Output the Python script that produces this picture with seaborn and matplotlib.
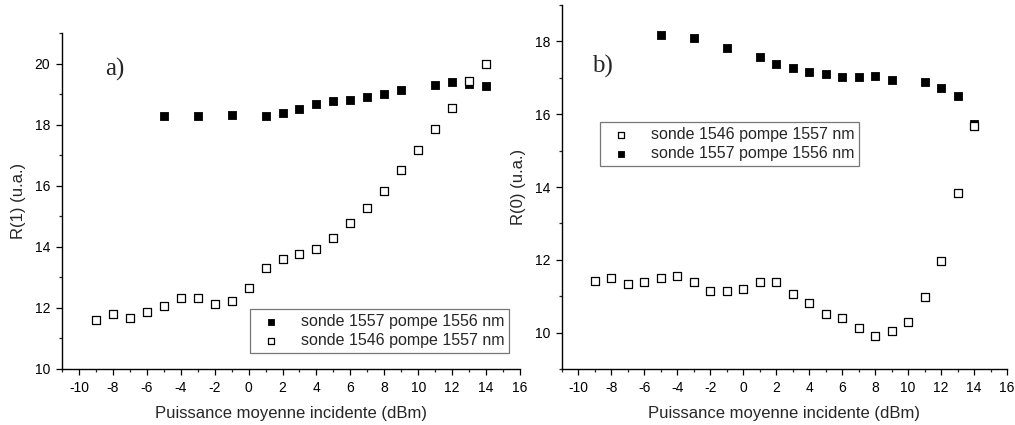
import matplotlib
matplotlib.use("Agg")
import matplotlib.pyplot as plt
import seaborn as sns
import pandas as pd
from matplotlib.ticker import MultipleLocator

# ---- data ----
x_a_filled = [-5, -3, -1, 1, 2, 3, 4, 5, 6, 7, 8, 9, 11, 12, 13, 14]
y_a_filled = [18.27, 18.27, 18.30, 18.28, 18.38, 18.50, 18.66, 18.78, 18.80, 18.90,
              18.99, 19.13, 19.30, 19.38, 19.33, 19.27]
x_a_open = list(range(-9, 15))
y_a_open = [11.59, 11.80, 11.68, 11.85, 12.05, 12.31, 12.31, 12.12, 12.21, 12.66,
            13.31, 13.60, 13.75, 13.94, 14.30, 14.77, 15.28, 15.83, 16.51, 17.17,
            17.86, 18.55, 19.43, 20.00]

x_b_filled = [-5, -3, -1, 1, 2, 3, 4, 5, 6, 7, 8, 9, 11, 12, 13, 14]
y_b_filled = [18.17, 18.08, 17.83, 17.58, 17.38, 17.26, 17.16, 17.10, 17.02, 17.02,
              17.05, 16.95, 16.88, 16.72, 16.49, 15.73]
x_b_open = list(range(-9, 15))
y_b_open = [11.43, 11.51, 11.34, 11.38, 11.51, 11.55, 11.38, 11.15, 11.15, 11.21,
            11.40, 11.40, 11.05, 10.80, 10.50, 10.41, 10.13, 9.92, 10.05, 10.29,
            10.98, 11.97, 13.83, 15.67]

lab_filled = "sonde 1557 pompe 1556 nm"
lab_open = "sonde 1546 pompe 1557 nm"
xlabel = "Puissance moyenne incidente (dBm)"
ylabel_a = "R(1) (u.a.)"
ylabel_b = "R(0) (u.a.)"
xticks = list(range(-10, 17, 2))

sns.set_theme(style="ticks")
plt.rcParams['font.family'] = ['Liberation Sans', 'DejaVu Sans']
plt.rcParams['axes.unicode_minus'] = False

fig = plt.figure(figsize=(10.15, 4.25), dpi=100)
ax1 = fig.add_axes([62/1015, 56/425, (520-62)/1015, (369-33)/425])
ax2 = fig.add_axes([562/1015, 56/425, (1007-562)/1015, (369-5)/425])

df_a_f = pd.DataFrame({"x": x_a_filled, "y": y_a_filled})
df_a_o = pd.DataFrame({"x": x_a_open, "y": y_a_open})
df_b_f = pd.DataFrame({"x": x_b_filled, "y": y_b_filled})
df_b_o = pd.DataFrame({"x": x_b_open, "y": y_b_open})

ms = 38
kw_f = dict(marker="s", s=ms, color="black", edgecolor="black", linewidth=0.6, zorder=3)
kw_o = dict(marker="s", s=ms, facecolor="white", edgecolor="black", linewidth=0.9, zorder=4)

sns.scatterplot(data=df_a_f, x="x", y="y", ax=ax1, label=lab_filled, **kw_f)
sns.scatterplot(data=df_a_o, x="x", y="y", ax=ax1, label=lab_open, **kw_o)
sns.scatterplot(data=df_b_o, x="x", y="y", ax=ax2, label=lab_open, **kw_o)
sns.scatterplot(data=df_b_f, x="x", y="y", ax=ax2, label=lab_filled, **kw_f)

for ax, ylim, ylab in [(ax1, (10, 21), ylabel_a), (ax2, (9, 19), ylabel_b)]:
    ax.set_xlim(-11, 16)
    ax.set_ylim(*ylim)
    ax.set_xticks(xticks)
    ax.xaxis.set_minor_locator(MultipleLocator(1))
    ax.yaxis.set_major_locator(MultipleLocator(2))
    ax.yaxis.set_minor_locator(MultipleLocator(1))
    ax.tick_params(which="major", direction="out", length=4.5, width=0.9, labelsize=10, pad=4, colors="black")
    ax.tick_params(which="minor", direction="out", length=2.5, width=0.9)
    for s in ["top", "right"]:
        ax.spines[s].set_visible(False)
    for s in ["left", "bottom"]:
        ax.spines[s].set_linewidth(1.0)
        ax.spines[s].set_color("black")
    ax.set_xlabel(xlabel, fontsize=12, labelpad=8)
    ax.set_ylabel(ylab, fontsize=12, labelpad=6)
    ax.set_facecolor("white")

leg_kw = dict(fontsize=11.5, frameon=True, fancybox=False, edgecolor="#555555",
              borderpad=0.3, labelspacing=0.25, handletextpad=0.9, markerscale=0.75,
              borderaxespad=0)
leg1 = ax1.legend(loc="upper left", bbox_to_anchor=((250-62)/458, (369-309)/336), **leg_kw)
leg2 = ax2.legend(loc="upper left", bbox_to_anchor=((600-562)/445, (369-122)/364), **leg_kw)
for leg in (leg1, leg2):
    leg.get_frame().set_linewidth(0.9)

ax1.text(-8.45, 19.8, "a)", fontsize=18, family=["Liberation Serif", "DejaVu Serif"], va="center", ha="left")
ax2.text(-9.15, 17.3, "b)", fontsize=18, family=["Liberation Serif", "DejaVu Serif"], va="center", ha="left")

fig.savefig("out.png", dpi=100, facecolor="white")
